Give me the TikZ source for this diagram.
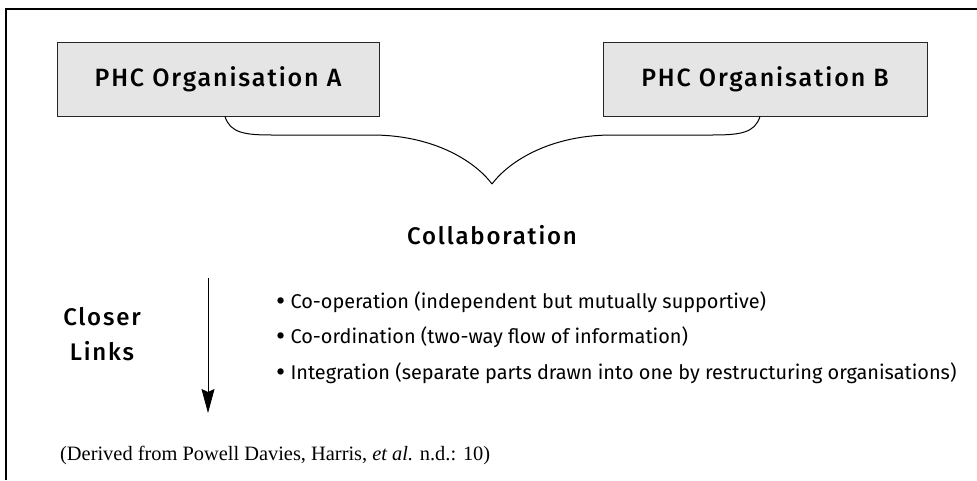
\documentclass[tikz,border=0pt]{standalone}
\usepackage{fontspec}
\setmainfont{Liberation Serif}
\newfontfamily\headfont[LetterSpace=7.5]{Fira Sans Medium}
\newfontfamily\itemfont{Fira Sans}
\newcommand{\itembullet}{{\fontsize{28}{28}\selectfont\raisebox{-2pt}{\textbullet}}}
\usetikzlibrary{arrows.meta, positioning}

\begin{document}
\begin{tikzpicture}[x=1pt,y=-1pt,
  orgbox/.style={draw=black!85,fill=black!10,line width=0.8pt,minimum width=322pt,
    minimum height=74pt,font=\headfont\fontsize{25}{28}\selectfont},
  headtext/.style={font=\headfont\fontsize{24}{35}\selectfont},
  itemtext/.style={anchor=base west,inner sep=0pt,font=\itemfont\fontsize{19.9}{23}\selectfont}]
  \useasboundingbox (0,0) rectangle (977,480);
  % frame
  \draw[line width=2pt] (6,480) -- (6,9) -- (977,9);
  % the two organisations
  \node[orgbox] (orgA) at (218,79) {PHC Organisation A};
  \node[orgbox,minimum width=324pt] (orgB) at (765,79) {PHC Organisation B};
  % brace joining them
  \coordinate (tip) at (492,184);
  \draw[line width=1pt] ([xshift=7pt]orgA.south) .. controls (230,133) and (245,135) .. (272,135)
    -- (372,135) .. controls (432,135) and (474,160) .. (tip);
  \draw[line width=1pt] ([xshift=-5pt]orgB.south) .. controls (755,133) and (740,135) .. (712,135)
    -- (612,135) .. controls (552,135) and (510,160) .. (tip);
  \node[headtext,anchor=base] (collab) at (492,244) {Collaboration};
  % closer links arrow
  \coordinate (linktop) at (208,278);
  \coordinate (linkbot) at (208,413);
  \draw[line width=0.8pt,-{Stealth[length=24pt,width=13pt,inset=3pt]}] (linktop) -- (linkbot);
  \node[headtext,align=center] (links) at (102,334) {Closer\\Links};
  % kinds of collaboration
  \node[itemtext] (coop) at (276,308) {\itembullet\ Co-operation (independent but mutually supportive)};
  \node[itemtext] (coord) at (276,343) {\itembullet\ Co-ordination (two-way flow of information)};
  \node[itemtext] (integ) at (276,379) {\itembullet\ Integration (separate parts drawn into one by restructuring organisations)};
  % source
  \node[anchor=base west,inner sep=0pt,font=\fontsize{20.4}{24}\selectfont] (source) at (60,460)
    {(Derived from Powell Davies, Harris, \textit{et al.} n.d.: 10)};
\end{tikzpicture}
\end{document}
